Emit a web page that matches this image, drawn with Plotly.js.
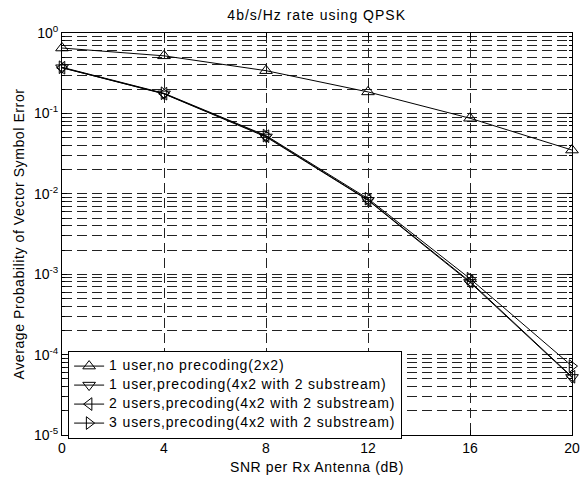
<!DOCTYPE html>
<html><head><meta charset="utf-8">
<script src="https://cdn.plot.ly/plotly-3.0.1.min.js"></script>
<style>
html,body{margin:0;padding:0;background:#fff}#c{width:580px;height:479px}
.legendtext{font-size:14px !important;letter-spacing:0.85px}
.gtitle{letter-spacing:1px}
.xtitle,.ytitle{letter-spacing:0.6px}
</style>
</head><body><div id="c"></div>
<script>
const snr = [0, 4, 8, 12, 16, 20];
const noPrecoding = [0.65, 0.52, 0.34, 0.185, 0.087, 0.035];
const user1Precoding = [0.37, 0.175, 0.051, 0.0083, 0.00079, 0.000052];
const users2Precoding = [0.37, 0.176, 0.052, 0.0084, 0.00081, 0.000053];
const users3Precoding = [0.375, 0.178, 0.053, 0.0087, 0.00088, 0.000072];
const seriesNames = ['1 user,no precoding(2x2)', '1 user,precoding(4x2 with 2 substream)', '2 users,precoding(4x2 with 2 substream)', '3 users,precoding(4x2 with 2 substream)'];
const xTicks = [0, 4, 8, 12, 16, 20];
const yTickVals = [1, 0.1, 0.01, 0.001, 0.0001, 0.00001];
const yTickText = ['10<sup>0</sup>', '10<sup>-1</sup>', '10<sup>-2</sup>', '10<sup>-3</sup>', '10<sup>-4</sup>', '10<sup>-5</sup>'];

const allY = [noPrecoding, user1Precoding, users2Precoding, users3Precoding];
const symbols = ['triangle-up-open', 'triangle-down-open', 'triangle-left-open', 'triangle-right-open'];
const traces = allY.map((y, i) => ({
  x: snr, y: y, name: seriesNames[i], type: 'scatter', mode: 'lines+markers',
  cliponaxis: false,
  line: {color: '#000', width: 1},
  marker: {symbol: symbols[i], size: 11, color: '#000', line: {width: 1, color: '#000'}}
}));
const font = {family: 'Liberation Sans, Arial, sans-serif', color: '#000'};
const layout = {
  width: 580, height: 479,
  margin: {l: 62, r: 8, t: 33, b: 44},
  paper_bgcolor: '#fff', plot_bgcolor: '#fff',
  font: Object.assign({size: 14}, font),
  title: {text: '4b/s/Hz rate using QPSK', x: 0.546, xanchor: 'center', y: 0.978, yanchor: 'top', font: Object.assign({size: 14}, font)},
  xaxis: {
    range: [0, 20], tickvals: xTicks, ticks: 'inside', ticklen: 5, tickcolor: '#000',
    showline: true, linecolor: '#000', linewidth: 1, mirror: 'ticks', zeroline: false,
    showgrid: true, gridcolor: '#222', gridwidth: 1, griddash: '10px,5px',
    title: {text: 'SNR per Rx Antenna (dB)', standoff: 7, font: Object.assign({size: 14}, font)},
    tickfont: Object.assign({size: 14}, font)
  },
  yaxis: {
    type: 'log', range: [-5, 0], tickvals: yTickVals, ticktext: yTickText,
    ticks: 'inside', ticklen: 5, tickcolor: '#000',
    showline: true, linecolor: '#000', linewidth: 1, mirror: 'ticks', zeroline: false,
    showgrid: true, gridcolor: '#222', gridwidth: 1, griddash: '10px,5px',
    minor: {dtick: 'D1', ticks: 'inside', ticklen: 3, tickcolor: '#000', showgrid: true, gridcolor: '#222', gridwidth: 1, griddash: '10px,5px'},
    title: {text: 'Average Probability of Vector Symbol Error', standoff: 6, font: Object.assign({size: 14}, font)},
    tickfont: Object.assign({size: 14}, font)
  },
  legend: {
    x: 0.012, y: 0.21, xanchor: 'left', yanchor: 'top',
    bgcolor: '#fff', bordercolor: '#000', borderwidth: 1,
    font: Object.assign({size: 11}, font), tracegroupgap: 0
  },
  showlegend: true
};
Plotly.newPlot('c', traces, layout, {displayModeBar: false, staticPlot: true});
</script></body></html>
